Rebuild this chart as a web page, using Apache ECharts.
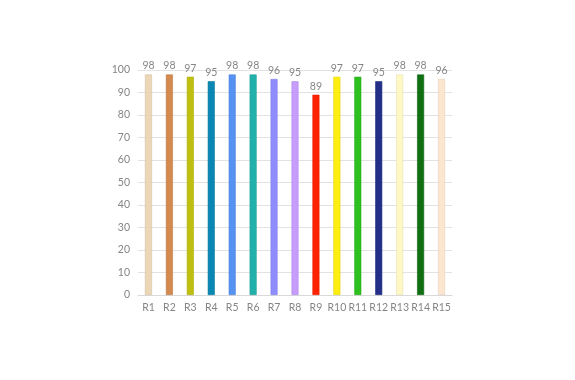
<!DOCTYPE html>
<html><head><meta charset="utf-8">
<script src="https://cdn.jsdelivr.net/npm/echarts@6/dist/echarts.min.js"></script>
<style>html,body{margin:0;padding:0;background:#fff}#c{width:575px;height:380px}</style>
</head><body><div id="c"></div>
<script>
const categories = ['R1','R2','R3','R4','R5','R6','R7','R8','R9','R10','R11','R12','R13','R14','R15'];
const values = [98,98,97,95,98,98,96,95,89,97,97,95,98,98,96];
const colors = ['#EBD6B6','#D4894F','#BFBF10','#0A87B2','#5592F2','#22B1AA','#8F8DFE','#C69CFD','#FF2200','#FFEE11','#2DC01F','#243088','#FFF8C4','#0F6F12','#FDE6CF'];
const yTicks = [0,10,20,30,40,50,60,70,80,90,100];
function darken(hex,f){const n=parseInt(hex.slice(1),16);const r=Math.round(((n>>16)&255)*f),g=Math.round(((n>>8)&255)*f),b=Math.round((n&255)*f);return 'rgb('+r+','+g+','+b+')';}
const chart = echarts.init(document.getElementById('c'));
const font = 'Lato';
chart.setOption({
  animation:false,
  grid:{left:138,right:123,top:70,bottom:85},
  xAxis:{type:'category',data:categories,
    axisLine:{lineStyle:{color:'#d9d9d9'}},axisTick:{show:false},
    axisLabel:{interval:0,color:'#858585',fontSize:10.5,fontFamily:font,margin:7}},
  yAxis:{type:'value',min:yTicks[0],max:yTicks[yTicks.length-1],interval:10,
    axisLine:{show:false},axisTick:{show:false},
    splitLine:{lineStyle:{color:'#e2e2e2'}},
    axisLabel:{color:'#858585',fontSize:10.5,fontFamily:font,margin:8}},
  series:[{type:'bar',barWidth:7,
    data:values.map((v,i)=>({value:v,itemStyle:{color:colors[i],borderColor:darken(colors[i],0.9),borderWidth:0.6}})),
    label:{show:true,position:'top',color:'#858585',fontSize:10.5,fontFamily:font,distance:3}}]
});
</script></body></html>
